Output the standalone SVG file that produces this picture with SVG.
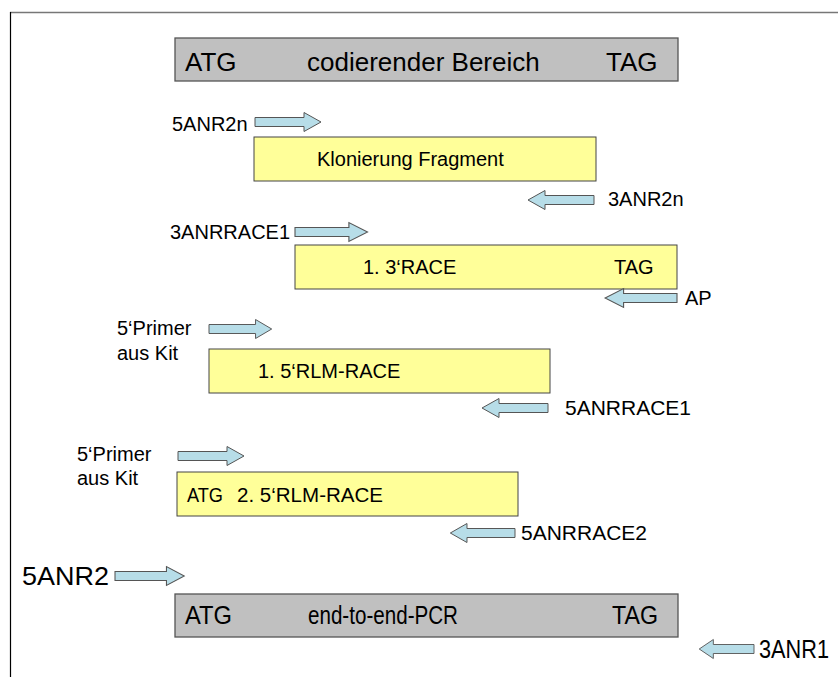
<svg xmlns="http://www.w3.org/2000/svg" width="838" height="677" viewBox="0 0 838 677">
<defs>
<style>
.t{font-family:"Liberation Sans",Arial,sans-serif;fill:#000}
.s20{font-size:20px}
.s26{font-size:26px}
.gray{fill:#c0c0c0;stroke:#555;stroke-width:1.3}
.yel{fill:#ffff99;stroke:#444;stroke-width:1}
.arr{fill:#b7dde8;stroke:#555;stroke-width:1}
</style>
<path id="ar" d="M0,-4.5 L49,-4.5 L49,-9.5 L66,0 L49,9.5 L49,4.5 L0,4.5 Z"/>
</defs>
<rect width="838" height="677" fill="#fff"/>
<g id="frame">
<line x1="10" y1="12.5" x2="838" y2="12.5" stroke="#777" stroke-width="1.5"/>
<line x1="10.5" y1="12" x2="10.5" y2="677" stroke="#000" stroke-width="1.2"/>
</g>
<g id="gene">
<rect class="gray" x="175" y="38" width="503" height="43"/>
<text class="t s26" x="185" y="71">ATG</text>
<text class="t s26" x="307" y="71">codierender Bereich</text>
<text class="t s26" x="606" y="71">TAG</text>
</g>
<g id="klon">
<rect class="yel" x="254" y="137" width="342" height="44"/>
<text class="t s20" x="317" y="166">Klonierung Fragment</text>
</g>
<g id="race3">
<rect class="yel" x="295" y="245" width="382" height="44"/>
<text class="t s20" x="363" y="274">1. 3‘RACE</text>
<text class="t s20" x="614" y="274">TAG</text>
</g>
<g id="rlm1">
<rect class="yel" x="209" y="349" width="341" height="44"/>
<text class="t s20" x="258" y="378">1. 5‘RLM-RACE</text>
</g>
<g id="rlm2">
<rect class="yel" x="177" y="472" width="341" height="44"/>
<text class="t s20" x="187" y="502" textLength="36" lengthAdjust="spacingAndGlyphs">ATG</text>
<text class="t s20" x="237" y="502" textLength="146" lengthAdjust="spacingAndGlyphs">2. 5‘RLM-RACE</text>
</g>
<g id="e2e">
<rect class="gray" x="175" y="594" width="503" height="43"/>
<text class="t s26" x="185" y="624" textLength="47" lengthAdjust="spacingAndGlyphs">ATG</text>
<text class="t s26" x="308" y="624" textLength="150" lengthAdjust="spacingAndGlyphs">end-to-end-PCR</text>
<text class="t s26" x="612" y="624" textLength="46" lengthAdjust="spacingAndGlyphs">TAG</text>
</g>
<g id="primers">
<text class="t s20" x="172" y="131">5ANR2n</text>
<text class="t s20" x="608" y="206">3ANR2n</text>
<text class="t s20" x="170" y="239">3ANRRACE1</text>
<text class="t s20" x="685" y="305">AP</text>
<text class="t s20" x="117" y="335">5‘Primer</text>
<text class="t s20" x="117" y="360">aus Kit</text>
<text class="t" style="font-size:21px" x="565" y="415">5ANRRACE1</text>
<text class="t s20" x="77" y="461">5‘Primer</text>
<text class="t s20" x="77" y="485">aus Kit</text>
<text class="t s20" x="521" y="540" textLength="126" lengthAdjust="spacingAndGlyphs">5ANRRACE2</text>
<text class="t" style="font-size:25px" x="22" y="585" textLength="87" lengthAdjust="spacingAndGlyphs">5ANR2</text>
<text class="t" style="font-size:25px" x="759" y="658" textLength="70" lengthAdjust="spacingAndGlyphs">3ANR1</text>
</g>
<g id="connectors">
<use href="#ar" class="arr" transform="translate(255,122)"/>
<use href="#ar" class="arr" transform="translate(594,200) scale(-1,1)"/>
<use href="#ar" class="arr" transform="translate(295,232) scale(1.1,1)"/>
<use href="#ar" class="arr" transform="translate(677,298) scale(-1.09,1)"/>
<use href="#ar" class="arr" transform="translate(209,329) scale(0.95,1)"/>
<use href="#ar" class="arr" transform="translate(548,408) scale(-1,1)"/>
<use href="#ar" class="arr" transform="translate(178,456)"/>
<use href="#ar" class="arr" transform="translate(515,533) scale(-0.98,1)"/>
<use href="#ar" class="arr" transform="translate(115,576) scale(1.05,1)"/>
<use href="#ar" class="arr" transform="translate(754,649) scale(-0.83,1)"/>
</g>
</svg>
